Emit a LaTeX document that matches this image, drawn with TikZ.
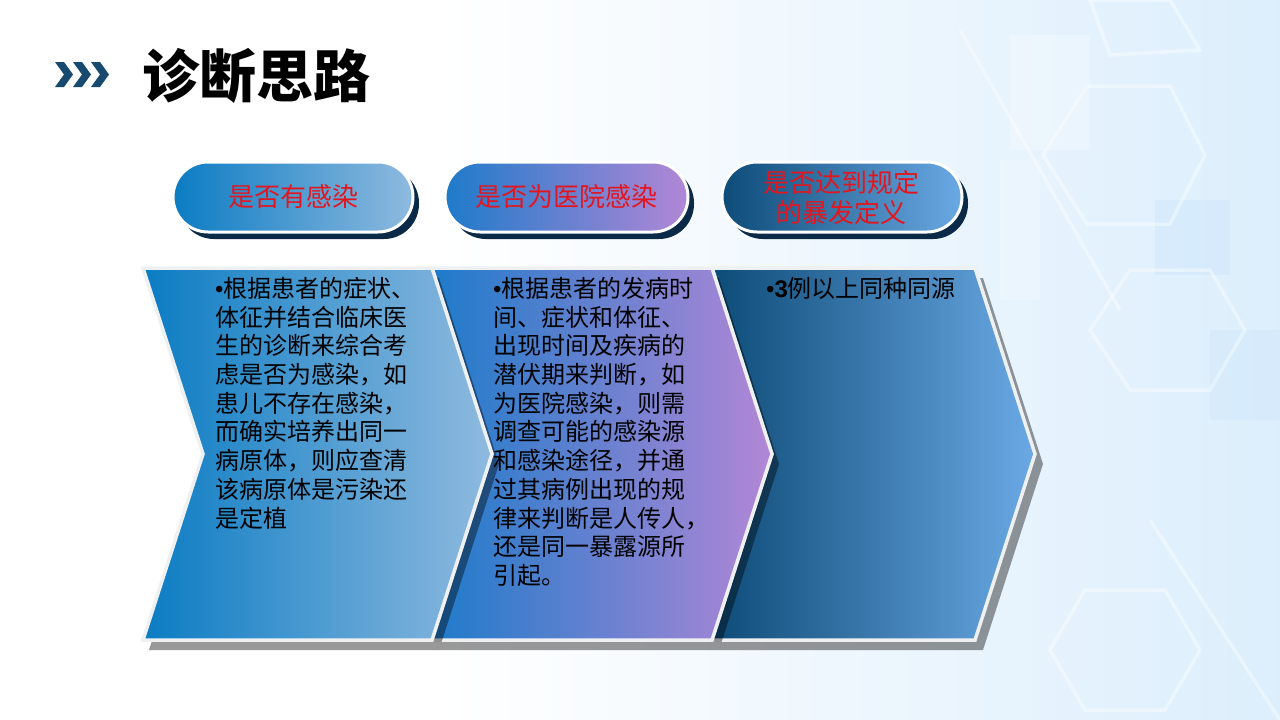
\documentclass[tikz,border=0pt]{standalone}
\usepackage{fontspec}
\usetikzlibrary{calc}
\newfontfamily\cjk{Noto Sans CJK SC}
\newfontfamily\lib{Liberation Sans}
\definecolor{bgblue}{HTML}{C2E1FA}
\definecolor{hexc}{HTML}{FFFFFF}
\definecolor{aL}{HTML}{0B7CC3}
\definecolor{aR}{HTML}{8FBADF}
\definecolor{bL}{HTML}{1E7BCA}
\definecolor{bR}{HTML}{B287D6}
\definecolor{cL}{HTML}{0D4B78}
\definecolor{cR}{HTML}{6AA9E4}
\definecolor{navy}{HTML}{0B2A48}
\definecolor{redtxt}{HTML}{E3161F}
\definecolor{ttlblue}{HTML}{174A6E}
\definecolor{rim}{HTML}{EEF0F2}
\pgfdeclarehorizontalshading{bgshade}{100bp}{color(0bp)=(white); color(42bp)=(white); color(100bp)=(bgblue)}
\tikzset{
  hexline/.style={draw=hexc, line width=3.5pt, opacity=0.4},
  chshadow/.style={fill=black, opacity=0.4},
  chrim/.style={draw=rim, line width=3.5pt, line join=miter},
  pillshadow/.style={fill=navy},
  pillrim/.style={draw=white, line width=3pt},
  pilltext/.style={text=redtxt, font=\cjk\fontsize{26}{30}\selectfont, align=center, inner sep=0pt},
  bodytext/.style={text=black, font=\cjk\fontsize{24}{28.7}\selectfont, align=left, anchor=north west, inner sep=0pt},
}
\begin{document}
\begin{tikzpicture}[x=1pt,y=-1pt]
\useasboundingbox (0,0) rectangle (1280,720);
% background
\shade[shading=bgshade] (0,0) rectangle (1280,720);
\fill[white, opacity=0.25] (1010,35) rectangle (1090,150);
\fill[white, opacity=0.2] (1000,160) rectangle (1040,300);
\fill[bgblue, opacity=0.3] (1155,200) rectangle (1230,275);
\fill[bgblue, opacity=0.25] (1210,330) rectangle (1280,420);
\draw[hexline] (1043,155) -- (1087,86) -- (1170,86) -- (1205,155) -- (1170,224) -- (1087,224) -- cycle;
\draw[hexline] (1090,0) -- (1170,0) -- (1200,50) -- (1110,55) -- cycle;
\draw[hexline] (960,30) -- (1120,310);
\draw[hexline] (1090,330) -- (1130,270) -- (1210,270) -- (1245,330) -- (1210,390) -- (1130,390) -- cycle;
\draw[hexline] (1050,650) -- (1085,590) -- (1165,590) -- (1200,650) -- (1165,710) -- (1085,710) -- cycle;
\draw[hexline] (1150,520) -- (1280,720);
% title
\foreach \i in {0,1,2} {
  \fill[ttlblue] ($(55,62)+(18*\i,0)$) -- ++(9,0) -- ++(9,12.5) -- ++(-9,12.5) -- ++(-9,0) -- ++(9,-12.5) -- cycle;
}
\node (title) at (256,76) {\cjk\bfseries\fontsize{57}{60}\selectfont 诊断思路};
% pills
\path[pillshadow, rounded corners=35pt] (179,168) rectangle (419,239);
\path[pillrim, left color=aL, right color=aR, rounded corners=35pt] (173,162) rectangle (413,232);
\node[pilltext] (p1) at (293,197) {是否有感染};
\path[pillshadow, rounded corners=35pt] (451,168) rectangle (694,239);
\path[pillrim, left color=bL, right color=bR, rounded corners=35pt] (445,162) rectangle (688,232);
\node[pilltext] (p2) at (566,197) {是否为医院感染};
\path[pillshadow, rounded corners=35pt] (728,168) rectangle (968,239);
\path[pillrim, left color=cL, right color=cR, rounded corners=35pt] (722,162) rectangle (962,232);
\node[pilltext] (p3) at (841,198) {是否达到规定\\的暴发定义};
% chevrons (drawn right to left so each shadow falls on the next)
\fill[chshadow] (719,278) -- (983,278) -- (1043,464) -- (983,650) -- (719,650) -- (779,464) -- cycle;
\path[chrim, left color=cL, right color=cR] (712,268) -- (975,268) -- (1035,454) -- (975,640) -- (712,640) -- (772,454) -- cycle;
\fill[chshadow] (439,278) -- (719,278) -- (779,464) -- (719,650) -- (439,650) -- (499,464) -- cycle;
\path[chrim, left color=bL, right color=bR] (432,268) -- (712,268) -- (772,454) -- (712,640) -- (432,640) -- (492,454) -- cycle;
\fill[chshadow] (149,278) -- (439,278) -- (499,464) -- (439,650) -- (149,650) -- (209,464) -- cycle;
\path[chrim, left color=aL, right color=aR] (143,268) -- (432,268) -- (492,454) -- (432,640) -- (143,640) -- (203,454) -- cycle;
% texts
\node[bodytext] (t1) at (215,277) {{\lib •}根据患者的症状、\\体征并结合临床医\\生的诊断来综合考\\虑是否为感染，如\\患儿不存在感染，\\而确实培养出同一\\病原体，则应查清\\该病原体是污染还\\是定植};
\node[bodytext] (t2) at (493,277) {{\lib •}根据患者的发病时\\间、症状和体征、\\出现时间及疾病的\\潜伏期来判断，如\\为医院感染，则需\\调查可能的感染源\\和感染途径，并通\\过其病例出现的规\\律来判断是人传人，\\还是同一暴露源所\\引起。};
\node[bodytext] (t3) at (766,277) {{\lib •\bfseries 3}例以上同种同源};
\end{tikzpicture}
\end{document}
